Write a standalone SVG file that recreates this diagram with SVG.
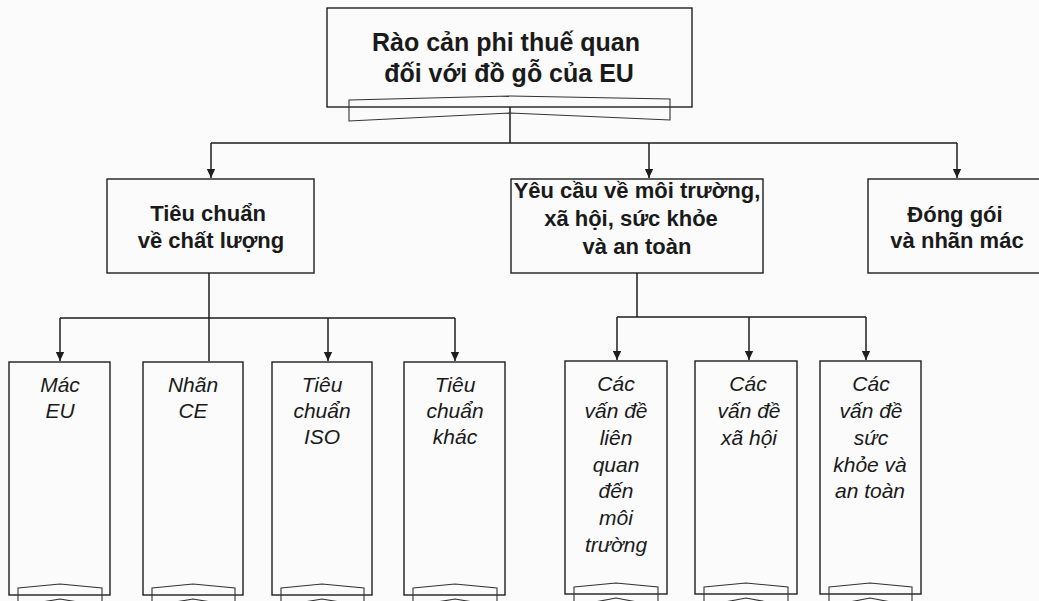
<svg xmlns="http://www.w3.org/2000/svg" width="1039" height="601" viewBox="0 0 1039 601">
<defs>
<marker id="arr" markerUnits="userSpaceOnUse" markerWidth="10" markerHeight="10" refX="9" refY="5" orient="auto">
<path d="M0,0.8 L9,5 L0,9.2 Z" fill="#1e1e1e"/>
</marker>
<style>
.box{fill:none;stroke:#1e1e1e;stroke-width:1.4}
.ban{fill:none;stroke:#333;stroke-width:1.1}
.ln{fill:none;stroke:#1e1e1e;stroke-width:1.5}
.t0{font-family:"Liberation Sans",Arial,sans-serif;font-weight:bold;font-size:25px;fill:#1a1a1a;text-anchor:middle}
.t1{font-family:"Liberation Sans",Arial,sans-serif;font-weight:bold;font-size:22px;fill:#1a1a1a;text-anchor:middle}
.t2{font-family:"Liberation Sans",Arial,sans-serif;font-style:italic;font-size:21px;fill:#1a1a1a;text-anchor:middle}
</style>
</defs>
<rect width="1039" height="601" fill="#fbfbfb"/>

<g id="connectors">
<path class="ln" d="M510,107 V143 M211,143 H957"/>
<path class="ln" d="M211,143 V178" marker-end="url(#arr)"/>
<path class="ln" d="M649,143 V178" marker-end="url(#arr)"/>
<path class="ln" d="M957,143 V178" marker-end="url(#arr)"/>
<path class="ln" d="M209,273 V361 M60,318 H455"/>
<path class="ln" d="M60,318 V361" marker-end="url(#arr)"/>
<path class="ln" d="M328,318 V361" marker-end="url(#arr)"/>
<path class="ln" d="M455,318 V361" marker-end="url(#arr)"/>
<path class="ln" d="M637,273 V317 M617,317 H866"/>
<path class="ln" d="M617,317 V360" marker-end="url(#arr)"/>
<path class="ln" d="M749,317 V360" marker-end="url(#arr)"/>
<path class="ln" d="M866,317 V360" marker-end="url(#arr)"/>
</g>

<g id="root">
<rect class="box" x="327" y="8" width="365" height="99"/>
<path class="ban" d="M349,100 L510,96 L670,99 V120 L510,113 L349,121 Z"/>
<text class="t0" x="506" y="51">Rào cản phi thuế quan</text>
<text class="t0" x="509" y="82">đối với đồ gỗ của EU</text>
</g>

<g id="quality">
<rect class="box" x="107" y="179" width="207" height="94"/>
<text class="t1" x="208" y="221">Tiêu chuẩn</text>
<text class="t1" x="211" y="248">về chất lượng</text>
</g>

<g id="env">
<rect class="box" x="511" y="179" width="252" height="94"/>
<text class="t1" x="637" y="198">Yêu cầu về môi trường,</text>
<text class="t1" x="631" y="226">xã hội, sức khỏe</text>
<text class="t1" x="637" y="254">và an toàn</text>
</g>

<g id="packaging">
<rect class="box" x="868" y="179" width="180" height="94"/>
<text class="t1" x="955" y="222">Đóng gói</text>
<text class="t1" x="957" y="248">và nhãn mác</text>
</g>

<g id="leaf-mac-eu">
<rect class="box" x="9" y="362" width="101" height="233"/>
<path class="ban" d="M18,588 L60,584 L102,588 V606 L60,599 L18,606 Z"/>
<text class="t2" x="60" y="392">Mác</text>
<text class="t2" x="60" y="418">EU</text>
</g>

<g id="leaf-nhan-ce">
<rect class="box" x="143" y="362" width="100" height="233"/>
<path class="ban" d="M152,588 L193,584 L235,588 V606 L193,599 L152,606 Z"/>
<text class="t2" x="193" y="392">Nhãn</text>
<text class="t2" x="193" y="418">CE</text>
</g>

<g id="leaf-iso">
<rect class="box" x="272" y="362" width="100" height="233"/>
<path class="ban" d="M281,588 L322,584 L364,588 V606 L322,599 L281,606 Z"/>
<text class="t2" x="322" y="392">Tiêu</text>
<text class="t2" x="322" y="418">chuẩn</text>
<text class="t2" x="322" y="444">ISO</text>
</g>

<g id="leaf-other">
<rect class="box" x="404" y="362" width="101" height="233"/>
<path class="ban" d="M413,588 L455,584 L497,588 V606 L455,599 L413,606 Z"/>
<text class="t2" x="455" y="392">Tiêu</text>
<text class="t2" x="455" y="418">chuẩn</text>
<text class="t2" x="455" y="444">khác</text>
</g>

<g id="leaf-env">
<rect class="box" x="565" y="361" width="102" height="233"/>
<path class="ban" d="M574,587 L616,583 L658,587 V606 L616,598 L574,606 Z"/>
<text class="t2" x="616" y="391">Các</text>
<text class="t2" x="616" y="418">vấn đề</text>
<text class="t2" x="616" y="445">liên</text>
<text class="t2" x="616" y="472">quan</text>
<text class="t2" x="616" y="498">đến</text>
<text class="t2" x="616" y="525">môi</text>
<text class="t2" x="616" y="552">trường</text>
</g>

<g id="leaf-social">
<rect class="box" x="695" y="361" width="102" height="233"/>
<path class="ban" d="M704,587 L746,583 L788,587 V606 L746,598 L704,606 Z"/>
<text class="t2" x="748" y="391">Các</text>
<text class="t2" x="749" y="418">vấn đề</text>
<text class="t2" x="749" y="445">xã hội</text>
</g>

<g id="leaf-health">
<rect class="box" x="820" y="361" width="101" height="233"/>
<path class="ban" d="M829,587 L870,583 L912,587 V606 L870,598 L829,606 Z"/>
<text class="t2" x="871" y="391">Các</text>
<text class="t2" x="871" y="418">vấn đề</text>
<text class="t2" x="871" y="445">sức</text>
<text class="t2" x="870" y="472">khỏe và</text>
<text class="t2" x="870" y="498">an toàn</text>
</g>
</svg>
